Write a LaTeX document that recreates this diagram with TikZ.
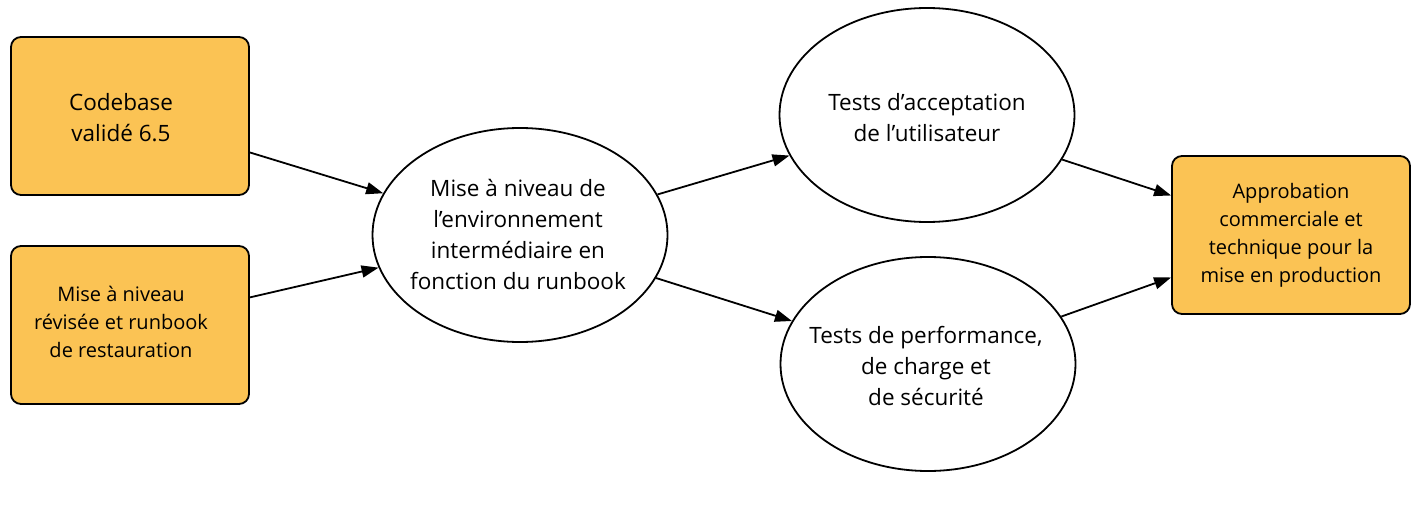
\documentclass[tikz,border=0pt]{standalone}
\usepackage{fontspec}
\setmainfont{Open Sans}
\usetikzlibrary{shapes.geometric,arrows.meta}
\definecolor{boxfill}{HTML}{FBC354}
\begin{document}
\begin{tikzpicture}[x=1pt,y=-1pt,
  box/.style={draw, line width=1.8pt, rounded corners=10pt, fill=boxfill, minimum width=238pt, minimum height=158pt, inner sep=0pt, align=center},
  oval/.style={draw, ellipse, line width=1.8pt, fill=white, minimum width=295pt, minimum height=214pt, inner sep=0pt},
  txt/.style={inner sep=0pt, align=center},
  big/.style={font=\fontsize{22.5}{31}\selectfont},
  small/.style={font=\fontsize{20}{28}\selectfont},
  arr/.style={-{Triangle[length=17pt,width=12pt]}, line width=1.8pt}]
\useasboundingbox (0,0) rectangle (1419,527);
\node[box] (cb) at (130,116) {};
\node[txt,big] (cbt) at (121,118) {Codebase\\validé 6.5};
\node[box] (mn) at (130,325) {};
\node[txt,small] (mnt) at (121,322) {Mise à niveau\\révisée et runbook\\de restauration};
\node[oval] (mid) at (520,235) {};
\node[txt,big] (midt) at (518,234) {Mise à niveau de\\l’environnement\\intermédiaire en\\fonction du runbook};
\node[oval] (uat) at (927,115) {};
\node[txt,big] (uatt) at (927,118) {Tests d’acceptation\\de l’utilisateur};
\node[oval] (perf) at (928,364) {};
\node[txt,big] (perft) at (926,366) {Tests de performance,\\de charge et\\de sécurité};
\node[box,small] (app) at (1291,235) {Approbation\\commerciale et\\technique pour la\\mise en production};
\draw[arr] (cb) -- (mid);
\draw[arr] (mn) -- (mid);
\draw[arr] (mid) -- (uat);
\draw[arr] (mid) -- (perf);
\draw[arr] (uat) -- (app);
\draw[arr] (perf) -- (app);
\end{tikzpicture}
\end{document}
